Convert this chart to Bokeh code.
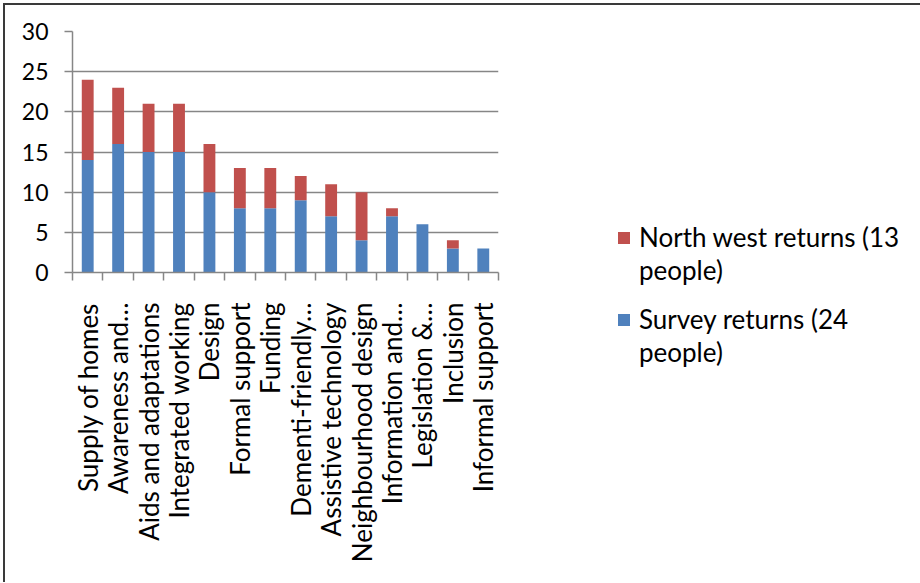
from bokeh.plotting import figure
from bokeh.models import ColumnDataSource, FixedTicker, Legend, LegendItem, Range1d, InlineStyleSheet
from bokeh.embed import file_html
from bokeh.resources import INLINE
import math

categories = ["Supply of homes", "Awareness and\u2026", "Aids and adaptations", "Integrated working",
              "Design", "Formal support", "Funding", "Dementi-friendly\u2026", "Assistive technology",
              "Neighbourhood design", "Information and\u2026", "Legislation &\u2026", "Inclusion",
              "Informal support"]
survey = [14, 16, 15, 15, 10, 8, 8, 9, 7, 4, 7, 6, 3, 3]
north_west = [10, 7, 6, 6, 6, 5, 5, 3, 4, 6, 1, 0, 1, 0]
y_ticks = [0, 5, 10, 15, 20, 25, 30]
north_west_label = ["North west returns (13", "people)"]
survey_label = ["Survey returns (24", "people)"]

BLUE = "#4F81BD"
RED = "#C0504D"
GRID = "#868686"
FONT = "Lato"

xs = list(range(1, len(categories) + 1))
source = ColumnDataSource(dict(x=xs, survey=survey, north_west=north_west))

sheet = InlineStyleSheet(css=":host { margin-left: 3px; margin-top: 3px; "
                             "border-left: 2px solid #3a3a3a; border-top: 2px solid #3a3a3a; }")

p = figure(frame_width=426, frame_height=241, output_backend="svg", toolbar_location=None,
           x_range=Range1d(0.5, len(categories) + 0.5), y_range=Range1d(0, 30),
           min_border_left=67, min_border_top=26, min_border_bottom=310, min_border_right=0,
           stylesheets=[sheet])
p.outline_line_color = None
p.background_fill_color = "white"
p.border_fill_color = "white"

r = p.vbar_stack(["survey", "north_west"], x="x", width=0.39, source=source,
                 color=[BLUE, RED], line_color=None)
blank = p.vbar(x=[], top=[], width=0.4, fill_alpha=0, line_alpha=0)

# y axis
p.yaxis.ticker = FixedTicker(ticks=y_ticks)
p.yaxis.axis_line_color = GRID
p.yaxis.axis_line_width = 1.5
p.yaxis.major_tick_line_color = GRID
p.yaxis.major_tick_line_width = 1.5
p.yaxis.major_tick_out = 8
p.yaxis.major_tick_in = 0
p.yaxis.minor_tick_line_color = None
p.yaxis.major_label_text_font = FONT
p.yaxis.major_label_text_font_size = "23px"
p.yaxis.major_label_text_color = "black"
p.yaxis.major_label_standoff = 16

# x axis
p.xaxis.ticker = FixedTicker(ticks=xs, minor_ticks=[x - 0.5 for x in xs] + [xs[-1] + 0.5])
p.xaxis.major_label_overrides = {x: c for x, c in zip(xs, categories)}
p.xaxis.major_label_orientation = math.pi / 2
p.xaxis.axis_line_color = GRID
p.xaxis.axis_line_width = 1.5
p.xaxis.major_tick_line_color = None
p.xaxis.major_tick_out = 0
p.xaxis.major_tick_in = 0
p.xaxis.minor_tick_line_color = GRID
p.xaxis.minor_tick_line_width = 1.5
p.xaxis.minor_tick_out = 8
p.xaxis.minor_tick_in = 0
p.xaxis.major_label_text_font = FONT
p.xaxis.major_label_text_font_size = "26px"
p.xaxis.major_label_text_color = "black"
p.xaxis.major_label_standoff = 22

p.xgrid.grid_line_color = None
p.ygrid.ticker = FixedTicker(ticks=y_ticks)
p.ygrid.grid_line_color = GRID
p.ygrid.grid_line_width = 1.5

legend = Legend(items=[LegendItem(label=north_west_label[0], renderers=[r[1]]),
                       LegendItem(label=north_west_label[1], renderers=[blank]),
                       LegendItem(label="", renderers=[blank]),
                       LegendItem(label=survey_label[0], renderers=[r[0]]),
                       LegendItem(label=survey_label[1], renderers=[blank])],
                location=(118, -96))
legend.label_text_font = FONT
legend.label_text_font_size = "26px"
legend.label_text_color = "black"
legend.label_height = 0
legend.glyph_width = 15
legend.glyph_height = 15
legend.spacing = 1
legend.border_line_color = None
legend.background_fill_alpha = 0
legend.label_standoff = 8
p.add_layout(legend, "right")

open("out.html", "w").write(file_html(p, INLINE))
